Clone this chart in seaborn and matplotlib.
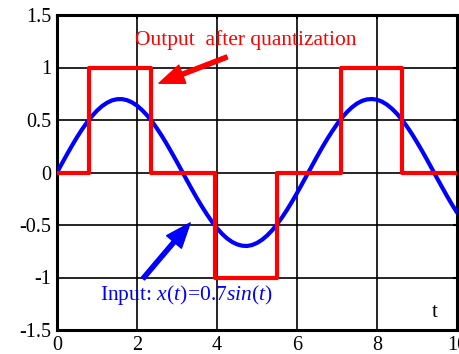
import numpy as np
import pandas as pd
import matplotlib
matplotlib.use('Agg')
import matplotlib.pyplot as plt
import seaborn as sns

# input signal
t_vals = [0.0, 0.125, 0.25, 0.375, 0.5, 0.625, 0.75, 0.875, 1.0, 1.125, 1.25,
          1.375, 1.5, 1.625, 1.75, 1.875, 2.0, 2.125, 2.25, 2.375, 2.5, 2.625,
          2.75, 2.875, 3.0, 3.125, 3.25, 3.375, 3.5, 3.625, 3.75, 3.875, 4.0,
          4.125, 4.25, 4.375, 4.5, 4.625, 4.75, 4.875, 5.0, 5.125, 5.25, 5.375,
          5.5, 5.625, 5.75, 5.875, 6.0, 6.125, 6.25, 6.375, 6.5, 6.625, 6.75,
          6.875, 7.0, 7.125, 7.25, 7.375, 7.5, 7.625, 7.75, 7.875, 8.0, 8.125,
          8.25, 8.375, 8.5, 8.625, 8.75, 8.875, 9.0, 9.125, 9.25, 9.375, 9.5,
          9.625, 9.75, 9.875, 10.0]
x_vals = [0.0, 0.087, 0.173, 0.256, 0.336, 0.410, 0.477, 0.537, 0.589, 0.632,
          0.664, 0.687, 0.698, 0.699, 0.689, 0.668, 0.637, 0.595, 0.545, 0.486,
          0.419, 0.346, 0.267, 0.184, 0.099, 0.012, -0.076, -0.162, -0.246,
          -0.325, -0.400, -0.469, -0.530, -0.583, -0.627, -0.661, -0.684, -0.697,
          -0.700, -0.691, -0.671, -0.641, -0.601, -0.552, -0.494, -0.428, -0.356,
          -0.278, -0.196, -0.110, -0.023, 0.064, 0.151, 0.235, 0.315, 0.390,
          0.460, 0.522, 0.576, 0.621, 0.657, 0.682, 0.696, 0.700, 0.693, 0.675,
          0.646, 0.607, 0.559, 0.502, 0.437, 0.366, 0.288, 0.207, 0.122, 0.035,
          -0.053, -0.139, -0.224, -0.305, -0.381]

# quantized output: level changes
q_edges = [0.0, 0.8, 2.36, 3.95, 5.5, 7.1, 8.63, 10.0]
q_levels = [0, 1, 0, -1, 0, 1, 0, 0]

sns.set_style('white')
plt.rcParams['font.family'] = ['Liberation Serif', 'DejaVu Serif']
plt.rcParams['mathtext.fontset'] = 'custom'
plt.rcParams['mathtext.rm'] = 'Liberation Serif'
plt.rcParams['mathtext.it'] = 'Liberation Serif:italic'

fig = plt.figure(figsize=(4.59, 3.54), dpi=100)
ax = fig.add_axes([57/459, 24/354, 400/459, 315/354])

sig = pd.DataFrame({'t': t_vals, 'x': x_vals})
quant = pd.DataFrame({'t': q_edges, 'q': q_levels})

sns.lineplot(data=sig, x='t', y='x', color='#0000ff', linewidth=3.0, ax=ax, zorder=3)
sns.lineplot(data=quant, x='t', y='q', color='#ff0000', linewidth=3.0,
             drawstyle='steps-post', ax=ax, zorder=4)

ax.set_xlim(0, 10)
ax.set_ylim(-1.5, 1.5)
ax.set_xticks([0, 2, 4, 6, 8, 10])
ax.set_yticks([-1.5, -1, -0.5, 0, 0.5, 1, 1.5])
ax.set_yticklabels(['-1.5', '-1', '-0.5', '0', '0.5', '1', '1.5'])
ax.grid(True, color='black', linewidth=1.2)
ax.set_axisbelow(True)
for s in ax.spines.values():
    s.set_color('black')
    s.set_linewidth(2.2)
ax.tick_params(direction='in', length=3, width=1.5, labelsize=14.5, pad=4,
               top=True, right=True, colors='black')
ax.set_xlabel('')
ax.set_ylabel('')

ax.text(1.95, 1.26, 'Output  after quantization', color='#ff0000', fontsize=15.5,
        va='center', ha='left')
ax.annotate('', xy=(2.55, 0.85), xytext=(4.25, 1.1),
            arrowprops=dict(color='#ff0000', width=3, headwidth=14, headlength=18))
ax.text(1.07, -1.17, r'Input: $x(t)\!=\!0.7sin(t)$', color='#0000ff', fontsize=15.5,
        va='center', ha='left')
ax.annotate('', xy=(3.33, -0.48), xytext=(2.15, -1.01),
            arrowprops=dict(color='#0000ff', width=3, headwidth=14, headlength=18))
ax.text(9.45, -1.33, 't', color='black', fontsize=15, va='center', ha='center')

fig.savefig('out.png', dpi=100)
